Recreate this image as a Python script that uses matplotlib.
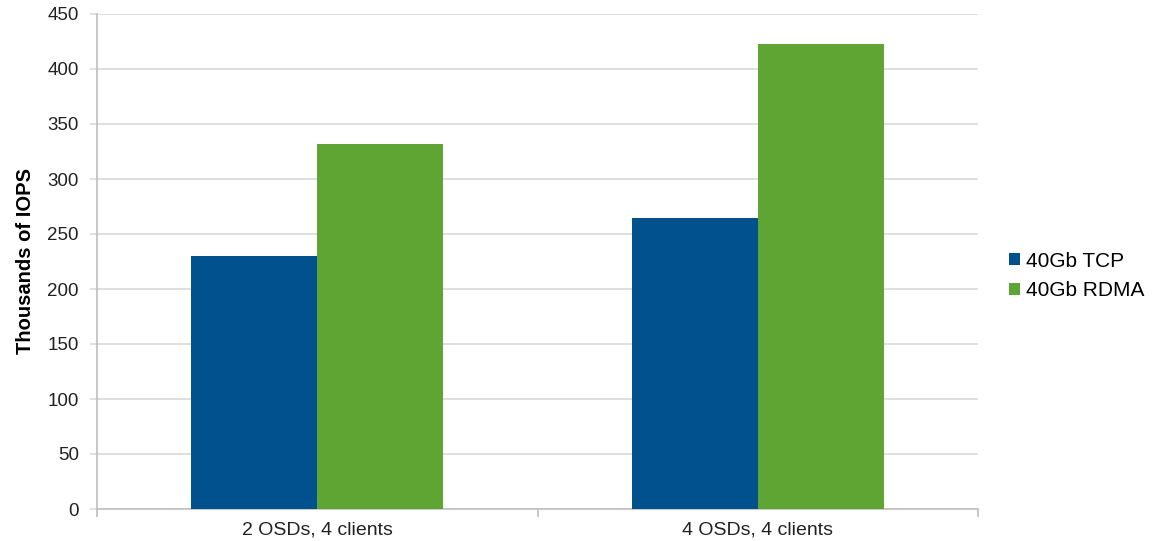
import numpy as np
import matplotlib
matplotlib.use('Agg')
import matplotlib.pyplot as plt

plt.rcParams['font.family'] = ['Liberation Sans', 'DejaVu Sans']

# data
categories = ['2 OSDs, 4 clients', '4 OSDs, 4 clients']
tcp = [230, 265]
rdma = [332, 423]
series_names = ['40Gb TCP', '40Gb RDMA']

fig = plt.figure(figsize=(11.56, 5.41), dpi=100)
ax = fig.add_axes([97/1156, 1 - 509/541, (978 - 97)/1156, (509 - 14)/541])

x = np.arange(len(categories))
w = 0.286
ax.bar(x - w/2, tcp, width=w, color='#00518E', label=series_names[0], zorder=3)
ax.bar(x + w/2, rdma, width=w, color='#5EA533', label=series_names[1], zorder=3)

ax.set_xlim(-0.5, len(categories) - 0.5)
ax.set_ylim(0, 450)
ax.set_yticks(np.arange(0, 451, 50))
ax.yaxis.grid(True, color='#d9d9d9', linewidth=1.2, zorder=0)

# category labels centred, tick marks on the boundaries
ax.set_xticks(x)
ax.set_xticklabels(categories)
ax.set_xticks(np.arange(-0.5, len(categories), 1), minor=True)
ax.tick_params(axis='x', which='major', length=0, pad=9, labelsize=14, colors='#222222')
ax.tick_params(axis='x', which='minor', length=6, color='#bfbfbf', width=1.2)
ax.tick_params(axis='y', length=5, width=1.2, labelsize=13.5, pad=8, colors='#222222')
ax.tick_params(axis='y', color='#d9d9d9')

for s in ['top', 'right']:
    ax.spines[s].set_visible(False)
ax.spines['left'].set_color('#bfbfbf')
ax.spines['bottom'].set_color('#bfbfbf')
ax.spines['left'].set_linewidth(1.2)
ax.spines['bottom'].set_linewidth(1.2)

ax.set_ylabel('Thousands of IOPS', fontsize=14.5, fontweight='bold', labelpad=9)

fig.legend(loc='center left', bbox_to_anchor=(0.857, 0.49), frameon=False,
           fontsize=15, handlelength=0.5, handleheight=0.5, handletextpad=0.3,
           labelspacing=0.5)

fig.savefig('out.png', dpi=100)
